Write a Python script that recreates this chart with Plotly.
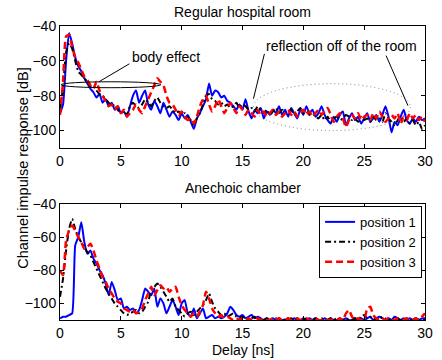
import numpy as np
import plotly.graph_objects as go
from plotly.subplots import make_subplots

delay = np.round(np.arange(0, 30.001, 0.25), 2)

room_p1 = [-90,-85,-60,-44,-50,-58,-63,-66,-70,-73,
           -76,-78,-81,-79,-84,-82,-86,-84,-88,-86,
           -90,-89,-92,-86,-80,-77,-84,-80,-77,-85,
           -88,-83,-86,-90,-84,-88,-92,-89,-91,-94,
           -90,-93,-91,-95,-99,-93,-90,-86,-82,-73,
           -80,-77,-78,-81,-80,-83,-84,-86,-88,-85,
           -88,-82,-89,-93,-88,-90,-87,-93,-89,-91,
           -88,-90,-86,-91,-88,-92,-87,-90,-93,-88,
           -91,-86,-90,-88,-92,-90,-86,-91,-94,-96,
           -92,-95,-91,-89,-97,-93,-90,-94,-92,-96,
           -93,-90,-95,-93,-91,-95,-91,-86,-92,-101,
           -95,-97,-92,-88,-94,-96,-93,-95,-92,-94,
           -93]
room_p2 = [-88,-75,-55,-50,-53,-60,-66,-68,-70,-72,
           -75,-74,-77,-79,-80,-82,-84,-86,-85,-88,
           -90,-89,-91,-86,-84,-86,-87,-85,-82,-84,
           -86,-83,-81,-84,-86,-87,-86,-88,-90,-89,
           -91,-90,-92,-94,-97,-93,-90,-85,-80,-79,
           -82,-83,-85,-84,-86,-85,-87,-86,-84,-87,
           -85,-86,-88,-87,-89,-86,-88,-90,-88,-91,
           -89,-87,-90,-88,-90,-89,-88,-91,-89,-87,
           -90,-89,-91,-90,-92,-93,-91,-94,-92,-95,
           -93,-92,-94,-93,-91,-92,-94,-93,-95,-92,
           -94,-93,-95,-92,-94,-93,-95,-90,-93,-95,
           -97,-94,-92,-95,-93,-96,-94,-97,-95,-99,
           -97]
room_p3 = [-91,-72,-46,-45,-52,-58,-61,-65,-69,-71,
           -74,-76,-72,-77,-80,-83,-86,-85,-88,-86,
           -90,-88,-92,-90,-88,-85,-88,-90,-86,-82,
           -78,-74,-70,-72,-74,-80,-84,-85,-88,-91,
           -89,-92,-94,-93,-96,-92,-86,-82,-80,-85,
           -89,-86,-82,-86,-90,-87,-84,-87,-90,-86,
           -88,-91,-88,-90,-92,-88,-91,-89,-92,-90,
           -88,-91,-89,-92,-90,-88,-91,-89,-92,-90,
           -88,-91,-89,-92,-90,-88,-91,-89,-87,-91,
           -95,-92,-90,-93,-98,-94,-91,-93,-90,-94,
           -92,-91,-94,-90,-93,-89,-92,-95,-93,-91,
           -93,-90,-96,-92,-94,-90,-93,-91,-94,-92,
           -95]

anech_p1 = [-109,-108,-108,-107,-106,-65,-60,-51,-63,-70,
            -68,-73,-76,-80,-83,-88,-95,-87,-92,-98,
            -97,-103,-102,-104,-103,-106,-104,-98,-91,-93,
            -95,-91,-102,-97,-100,-106,-102,-98,-102,-107,
            -100,-98,-106,-108,-103,-109,-106,-103,-109,-108,
            -107,-109,-108,-109,-108,-106,-102,-104,-107,-108,
            -107,-109,-108,-107,-109,-108,-109,-110,-109,-110,
            -109,-110,-109,-110,-110,-109,-110,-109,-110,-110,
            -109,-110,-109,-110,-109,-110,-110,-109,-110,-109,
            -110,-110,-109,-110,-109,-110,-110,-109,-110,-109,
            -110,-109,-108,-110,-109,-108,-109,-110,-109,-110,
            -108,-109,-110,-109,-110,-109,-110,-109,-110,-109,
            -109]
anech_p2 = [-96,-85,-68,-55,-49,-55,-60,-63,-66,-69,
            -71,-75,-79,-83,-87,-91,-94,-97,-100,-102,
            -104,-106,-107,-106,-105,-104,-106,-105,-102,-99,
            -92,-90,-88,-90,-93,-96,-99,-97,-102,-104,
            -106,-108,-106,-105,-107,-105,-103,-101,-98,-94,
            -99,-103,-105,-107,-106,-108,-107,-106,-108,-109,
            -108,-109,-110,-109,-108,-110,-109,-110,-109,-110,
            -110,-109,-110,-109,-110,-110,-109,-110,-109,-110,
            -110,-109,-110,-110,-109,-110,-109,-110,-110,-109,
            -110,-109,-110,-110,-109,-110,-110,-109,-110,-108,
            -107,-109,-108,-110,-109,-110,-108,-109,-110,-109,
            -110,-109,-110,-110,-109,-110,-110,-109,-110,-110,
            -110]
anech_p3 = [-80,-83,-62,-56,-53,-56,-60,-63,-67,-66,
            -64,-68,-74,-79,-84,-87,-91,-94,-97,-99,
            -100,-103,-104,-105,-104,-106,-105,-103,-98,-94,
            -90,-95,-92,-89,-91,-90,-93,-91,-90,-96,
            -101,-104,-106,-108,-106,-108,-105,-101,-93,-97,
            -103,-106,-108,-107,-109,-108,-109,-110,-109,-110,
            -109,-110,-109,-110,-110,-109,-110,-109,-110,-110,
            -109,-110,-109,-110,-110,-109,-110,-110,-109,-110,
            -110,-109,-110,-110,-109,-110,-110,-109,-110,-110,
            -109,-110,-109,-110,-106,-104,-108,-110,-109,-110,
            -110,-103,-102,-107,-109,-110,-109,-110,-109,-110,
            -110,-109,-110,-110,-109,-110,-110,-109,-110,-108,
            -106]

names = ["position 1", "position 2", "position 3"]
colors = ["#0000ff", "#000000", "#ff0000"]
dashes = ["solid", "6px,3px,2px,3px", "7px,4px"]
widths = [2, 2, 2.5]

FONT = "Liberation Sans, Arial, Helvetica, sans-serif"

fig = make_subplots(rows=2, cols=1, vertical_spacing=0.0)

for i, (ys_top, ys_bot) in enumerate([(room_p1, anech_p1), (room_p2, anech_p2), (room_p3, anech_p3)]):
    line = dict(color=colors[i], dash=dashes[i], width=widths[i], shape="spline", smoothing=0.5)
    fig.add_trace(go.Scatter(x=delay, y=ys_top, mode="lines", line=line, name=names[i],
                             showlegend=False), row=1, col=1)
    fig.add_trace(go.Scatter(x=delay, y=ys_bot, mode="lines", line=line, name=names[i],
                             showlegend=True), row=2, col=1)

axis_common = dict(showline=True, linecolor="black", linewidth=1, mirror="ticks",
                   ticks="inside", ticklen=4, tickcolor="black", showgrid=False,
                   zeroline=False, tickfont=dict(size=14, color="black", family=FONT))
fig.update_xaxes(range=[0, 30], tickvals=[0, 5, 10, 15, 20, 25, 30], **axis_common)
fig.update_yaxes(range=[-110, -40], tickvals=[-40, -60, -80, -100], **axis_common)

fig.update_layout(
    width=442, height=360,
    margin=dict(l=60, r=9, t=26, b=40),
    paper_bgcolor="white", plot_bgcolor="white",
    font=dict(family=FONT, size=14, color="black"),
    xaxis=dict(domain=[0, 1], anchor="y"),
    yaxis=dict(domain=[0.585, 1.0], anchor="x"),
    xaxis2=dict(domain=[0, 1], anchor="y2"),
    yaxis2=dict(domain=[0.0, 0.3946], anchor="x2"),
    legend=dict(x=0.992, y=0.388, xanchor="right", yanchor="top",
                bgcolor="white", bordercolor="black", borderwidth=1,
                font=dict(size=13, family=FONT), tracegroupgap=0,
                itemwidth=30),
)

# Titles and labels
fig.add_annotation(text="Regular hospital room", x=0.5, y=1.048, xref="paper", yref="paper",
                   showarrow=False, font=dict(size=14), yanchor="middle")
fig.add_annotation(text="Anechoic chamber", x=0.5, y=0.449, xref="paper", yref="paper",
                   showarrow=False, font=dict(size=14), yanchor="middle")
fig.add_annotation(text="Delay [ns]", x=0.5, y=-0.101, xref="paper", yref="paper",
                   showarrow=False, font=dict(size=14), yanchor="middle")
fig.add_annotation(text="Channel impulse response [dB]", x=-0.102, y=0.517, xref="paper",
                   yref="paper", showarrow=False, textangle=-90, font=dict(size=14.5),
                   xanchor="center", yanchor="middle")

# Top-plot annotations
fig.add_annotation(text="body effect", x=8.7, y=-57.7, xref="x", yref="y",
                   showarrow=False, font=dict(size=14))
fig.add_annotation(text="reflection off of the room", x=23.1, y=-51.4, xref="x", yref="y",
                   showarrow=False, font=dict(size=14))
fig.add_shape(type="circle", xref="x", yref="y", x0=0.08, x1=8.28, y0=-75.4, y1=-72.0,
              line=dict(color="black", width=1))
fig.add_shape(type="line", xref="x", yref="y", x0=3.2, y0=-72.0, x1=5.7, y1=-61.7,
              line=dict(color="black", width=1))
fig.add_shape(type="circle", xref="x", yref="y", x0=15.9, x1=28.8, y0=-100.0, y1=-73.1,
              line=dict(color="#808080", width=1, dash="1px,3px"))
fig.add_shape(type="line", xref="x", yref="y", x0=16.8, y0=-56, x1=15.9, y1=-81.7,
              line=dict(color="black", width=1))
fig.add_shape(type="line", xref="x", yref="y", x0=26.8, y0=-57, x1=28.6, y1=-85.7,
              line=dict(color="black", width=1))

fig.write_html("out.html")
